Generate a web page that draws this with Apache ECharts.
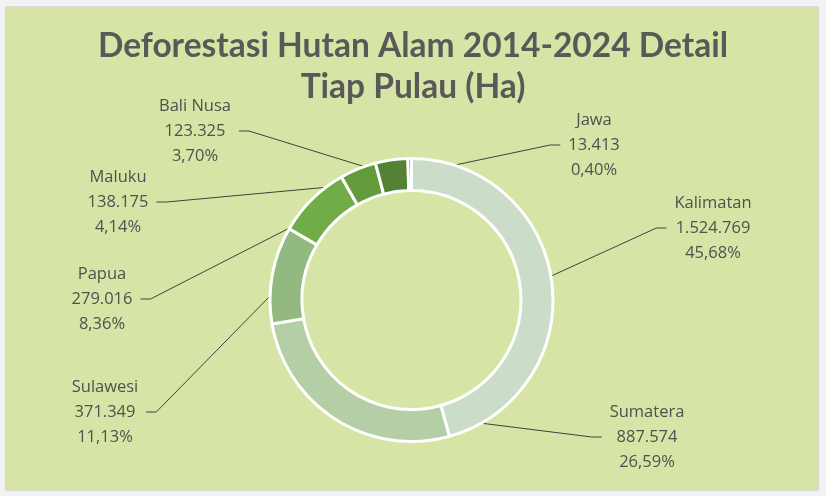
<!DOCTYPE html>
<html>
<head>
<meta charset="utf-8">
<script src="https://cdn.jsdelivr.net/npm/echarts@6/dist/echarts.min.js"></script>
<style>
  html, body { margin: 0; padding: 0; background: #f2f2f2; }
  #frame { position: absolute; left: 5px; top: 6px; width: 812px; height: 483px; background: #d6e5a5; border: 1px solid #d9d9d9; }
  #chart { position: absolute; left: 0; top: 0; width: 826px; height: 496px; }
</style>
</head>
<body>
<div id="frame"></div>
<div id="chart"></div>
<script>
const categories = ['Kalimatan', 'Sumatera', 'Sulawesi', 'Papua', 'Maluku', 'Bali Nusa', 'Jawa'];
const values = [1524769, 887574, 371349, 279016, 138175, 123325, 13413];
const percentLabels = ['45,68%', '26,59%', '11,13%', '8,36%', '4,14%', '3,70%', '0,40%'];
const colors = ['#cbdcc8', '#b4cea6', '#92b97f', '#70ad47', '#629c3a', '#548235', '#456f2b'];
// label anchor positions (layout only): [centerX, centerY, side]
const labelPos = [[713, 228, 'R'], [647, 437, 'R'], [105, 412, 'L'], [102, 299, 'L'], [118, 202, 'L'], [195, 131, 'L'], [594, 145, 'R']];

function fmtNum(v) { return String(v).replace(/\B(?=(\d{3})+(?!\d))/g, '.'); }

const chart = echarts.init(document.getElementById('chart'));
const option = {
  backgroundColor: 'transparent',
  title: {
    text: 'Deforestasi Hutan Alam 2014-2024 Detail\nTiap Pulau (Ha)',
    left: 'center',
    top: 21,
    textStyle: { fontFamily: 'Lato', fontWeight: 'bold', fontSize: 33.5, lineHeight: 41, color: '#595959' }
  },
  series: [{
    type: 'pie',
    center: [411.5, 300],
    radius: [109.5, 141.5],
    startAngle: 90,
    clockwise: true,
    avoidLabelOverlap: false,
    silent: true,
    itemStyle: { borderColor: '#ffffff', borderWidth: 3 },
    data: categories.map((c, i) => ({ name: c, value: values[i], itemStyle: { color: colors[i] } })),
    label: {
      show: true,
      position: 'outside',
      formatter: p => p.name + '\n' + fmtNum(p.value) + '\n' + percentLabels[p.dataIndex],
      fontFamily: 'Open Sans',
      fontSize: 16.5,
      lineHeight: 25,
      color: '#505050',
      align: 'center'
    },
    labelLine: { show: true, lineStyle: { color: '#404040', width: 1 } },
    labelLayout: function (params) {
      const i = params.dataIndex;
      const lp = labelPos[i];
      const w = params.labelRect.width;
      let pts;
      try {
        const lay = chart.getModel().getSeriesByIndex(0).getData().getItemLayout(i);
        const mid = (lay.startAngle + lay.endAngle) / 2;
        const rm = (lay.r + lay.r0) / 2;
        const px = lay.cx + rm * Math.cos(mid);
        const py = lay.cy + rm * Math.sin(mid);
        let sx, ex;
        if (lp[2] === 'L') { sx = lp[0] + w / 2 + 8; ex = sx + 10; }
        else { sx = lp[0] - w / 2 - 8; ex = sx - 10; }
        pts = [[sx, lp[1]], [ex, lp[1]], [px, py]];
      } catch (e) { pts = undefined; }
      const res = { x: lp[0], y: lp[1], align: 'center', verticalAlign: 'middle' };
      if (pts) res.labelLinePoints = pts;
      return res;
    }
  }]
};
chart.setOption(option);
</script>
</body>
</html>
